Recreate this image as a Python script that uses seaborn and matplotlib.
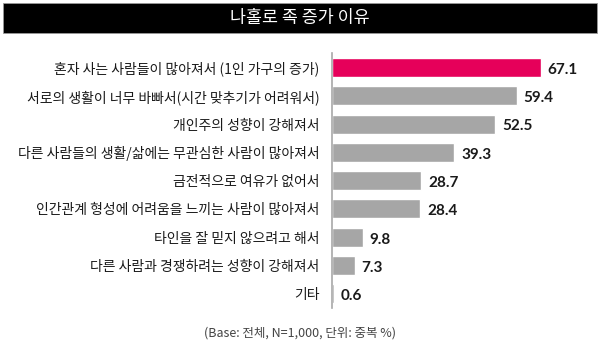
import matplotlib
matplotlib.use("Agg")
import matplotlib.pyplot as plt
from matplotlib.patches import Rectangle
import seaborn as sns
import pandas as pd

reasons = [
    "혼자 사는 사람들이 많아져서 (1인 가구의 증가)",
    "서로의 생활이 너무 바빠서(시간 맞추기가 어려워서)",
    "개인주의 성향이 강해져서",
    "다른 사람들의 생활/삶에는 무관심한 사람이 많아져서",
    "금전적으로 여유가 없어서",
    "인간관계 형성에 어려움을 느끼는 사람이 많아져서",
    "타인을 잘 믿지 않으려고 해서",
    "다른 사람과 경쟁하려는 성향이 강해져서",
    "기타",
]
percent = [67.1, 59.4, 52.5, 39.3, 28.7, 28.4, 9.8, 7.3, 0.6]
title = "나홀로 족 증가 이유"
note = "(Base: 전체, N=1,000, 단위: 중복 %)"

sns.set_theme(style="white")
plt.rcParams["font.family"] = ["Noto Sans CJK KR", "DejaVu Sans"]

df = pd.DataFrame({"reason": reasons, "pct": percent})
colors = ["#E6005A"] + ["#A6A6A6"] * (len(reasons) - 1)

fig = plt.figure(figsize=(6, 3.5), dpi=100)
ax = fig.add_axes([332 / 600, 42 / 350, 249 / 600, 255 / 350])

sns.barplot(data=df, x="pct", y="reason", hue="reason", palette=colors,
            legend=False, width=0.67, ax=ax, orient="h", saturation=1)

ax.set_xlim(0, 80)
ax.set_ylim(8.5, -0.51)
ax.set_xlabel("")
ax.set_ylabel("")
ax.set_xticks([])
ax.tick_params(axis="y", length=0, pad=9, labelsize=10, labelcolor="#1a1a1a")
for lbl in ax.get_yticklabels():
    lbl.set_fontweight("medium")
for s in ["top", "right", "bottom"]:
    ax.spines[s].set_visible(False)
ax.spines["left"].set_color("#A8A8A8")
ax.spines["left"].set_linewidth(1.2)

for i, v in enumerate(percent):
    ax.text(v + 2.2, i + 0.08, f"{v:.1f}", va="center", ha="left",
            fontsize=11, fontweight="bold", color="#1a1a1a",
            family=["Lato", "DejaVu Sans"])

# black title banner
fig.patches.append(Rectangle((3 / 600, 317 / 350), 594 / 600, 30 / 350,
                             transform=fig.transFigure, facecolor="black",
                             edgecolor="#999999", linewidth=0.6, zorder=0))
fig.text(0.5, 332 / 350, title, ha="center", va="center", color="white",
         fontsize=12.5)

fig.text(0.5, 17 / 350, note, ha="center", va="center", color="#444444",
         fontsize=9)

fig.savefig("out.png", dpi=100, facecolor="white")
